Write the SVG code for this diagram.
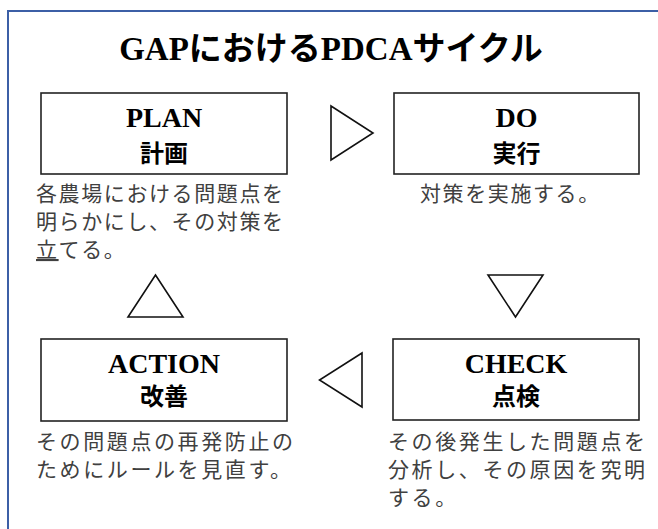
<svg xmlns="http://www.w3.org/2000/svg" width="658" height="529" viewBox="0 0 658 529">
  <style>
    .frame { fill: #ffffff; stroke: #3C5FA6; stroke-width: 2; }
    .box { fill: #ffffff; stroke: #222222; stroke-width: 1.6; }
    .tri { fill: #ffffff; stroke: #111111; stroke-width: 1.6; stroke-linejoin: miter; }
    .lat { font-family: "Liberation Serif", "Noto Sans CJK JP", serif; font-weight: bold; fill: #000; }
    .jp { font-family: "Noto Sans CJK JP", sans-serif; font-weight: bold; fill: #000; }
    .lbl-en { font-size: 28px; text-anchor: middle; }
    .lbl-jp { font-size: 24px; text-anchor: middle; }
    .desc { font-family: "Noto Sans CJK JP", sans-serif; font-size: 21px; fill: #404040; }
    .title { font-size: 33px; }
  </style>
  <rect width="658" height="529" fill="#ffffff"/>
  <rect class="frame" x="8" y="11" width="700" height="560"/>

  <g id="title">
    <text x="331" y="60" text-anchor="middle" class="lat title"><tspan>GAP</tspan><tspan class="jp">における</tspan><tspan>PDCA</tspan><tspan class="jp">サイクル</tspan></text>
  </g>

  <g id="plan">
    <rect class="box" x="41" y="93" width="246" height="81"/>
    <text class="lat lbl-en" x="164" y="127">PLAN</text>
    <text class="jp lbl-jp" x="164" y="162">計画</text>
    <text class="desc" x="36" y="201" letter-spacing="1.6">各農場における問題点を</text>
    <text class="desc" x="36" y="229" letter-spacing="1.6">明らかにし、その対策を</text>
    <text class="desc" x="36" y="257" letter-spacing="1.6"><tspan text-decoration="underline">立</tspan>てる。</text>
  </g>

  <g id="do">
    <rect class="box" x="394" y="93" width="245" height="81"/>
    <text class="lat lbl-en" x="516.5" y="127">DO</text>
    <text class="jp lbl-jp" x="516.5" y="162">実行</text>
    <text class="desc" x="420" y="201" letter-spacing="1.6">対策を実施する。</text>
  </g>

  <g id="check">
    <rect class="box" x="393" y="339" width="246" height="81"/>
    <text class="lat lbl-en" x="516" y="373">CHECK</text>
    <text class="jp lbl-jp" x="516" y="405">点検</text>
    <text class="desc" x="388" y="449" letter-spacing="2.6">その後発生した問題点を</text>
    <text class="desc" x="388" y="477" letter-spacing="2.6">分析し、その原因を究明</text>
    <text class="desc" x="388" y="505" letter-spacing="2.6">する。</text>
  </g>

  <g id="action">
    <rect class="box" x="41" y="339" width="246" height="82"/>
    <text class="lat lbl-en" x="164" y="373">ACTION</text>
    <text class="jp lbl-jp" x="164" y="405">改善</text>
    <text class="desc" x="36" y="449" letter-spacing="2.6">その問題点の再発防止の</text>
    <text class="desc" x="36" y="477" letter-spacing="2.6">ためにルールを見直す。</text>
  </g>

  <g id="connectors">
    <polygon class="tri" points="331,106 373,133 331,160"/>
    <polygon class="tri" points="488,275 543,275 515.5,317"/>
    <polygon class="tri" points="362,353 319.5,380 362,407"/>
    <polygon class="tri" points="128,317 155.5,275 183,317"/>
  </g>
</svg>
